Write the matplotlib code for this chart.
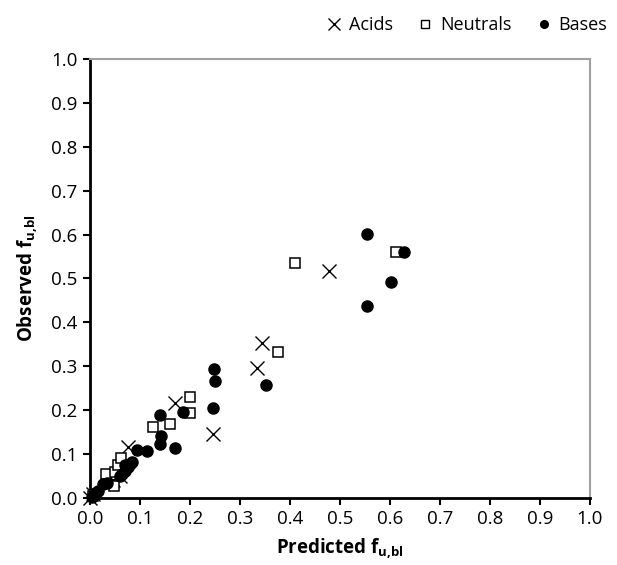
import matplotlib
matplotlib.use("Agg")
import matplotlib.pyplot as plt
import numpy as np

# values (predicted, observed)
acids_pred = [0.000, 0.005, 0.045, 0.060, 0.075, 0.170, 0.246, 0.334, 0.344, 0.478]
acids_obs = [0.000, 0.010, 0.040, 0.050, 0.117, 0.216, 0.145, 0.297, 0.354, 0.517]

neutrals_pred = [0.005, 0.032, 0.048, 0.050, 0.056, 0.062, 0.126, 0.160, 0.200, 0.200,
                 0.376, 0.410, 0.612]
neutrals_obs = [0.005, 0.055, 0.028, 0.060, 0.076, 0.092, 0.162, 0.169, 0.230, 0.194,
                0.332, 0.535, 0.560]

bases_pred = [0.003, 0.010, 0.016, 0.026, 0.034, 0.060, 0.064, 0.070, 0.075, 0.080,
              0.084, 0.070, 0.094, 0.113, 0.140, 0.142, 0.140, 0.170, 0.186, 0.248,
              0.250, 0.246, 0.352, 0.554, 0.628, 0.602, 0.554]
bases_obs = [0.003, 0.012, 0.017, 0.032, 0.035, 0.050, 0.055, 0.062, 0.070, 0.077,
             0.082, 0.075, 0.109, 0.106, 0.190, 0.142, 0.123, 0.113, 0.197, 0.294,
             0.267, 0.206, 0.258, 0.601, 0.560, 0.492, 0.437]

ticks = np.round(np.arange(0, 1.01, 0.1), 1)

plt.rcParams["font.family"] = ["Open Sans", "DejaVu Sans"]
plt.rcParams["mathtext.fontset"] = "custom"
plt.rcParams["mathtext.rm"] = "Open Sans:bold"
plt.rcParams["mathtext.bf"] = "Open Sans:bold"

fig = plt.figure(figsize=(6.17, 5.65), dpi=100)
ax = fig.add_axes([0.1459, 0.1186, 0.8103, 0.777])

ax.plot(acids_pred, acids_obs, "x", color="black", ms=10, mew=1.0, ls="none",
        label="Acids", clip_on=False)
ax.plot(neutrals_pred, neutrals_obs, "s", mfc="white", mec="black", ms=7.5, mew=1.1,
        ls="none", label="Neutrals", clip_on=False)
ax.plot(bases_pred, bases_obs, "o", color="black", ms=8, ls="none",
        label="Bases", clip_on=False)

ax.set_xlim(0, 1)
ax.set_ylim(0, 1)
ax.set_xticks(ticks)
ax.set_yticks(ticks)
ax.set_xticklabels([f"{t:.1f}" for t in ticks])
ax.set_yticklabels([f"{t:.1f}" for t in ticks])
ax.tick_params(direction="out", length=5, width=1.5, labelsize=13.5, pad=4)

for side in ["left", "bottom"]:
    ax.spines[side].set_linewidth(2)
    ax.spines[side].set_color("black")
for side in ["top", "right"]:
    ax.spines[side].set_linewidth(1.5)
    ax.spines[side].set_color("#a0a0a0")

ax.set_xlabel(r"Predicted f$_{\mathrm{u{,}bl}}$", fontsize=13.5, fontweight="bold", labelpad=6)
ax.set_ylabel(r"Observed f$_{\mathrm{u{,}bl}}$", fontsize=13.5, fontweight="bold", labelpad=8)

handles = [
    plt.Line2D([], [], marker="x", color="black", ls="none", ms=9, mew=1.0),
    plt.Line2D([], [], marker="s", mfc="white", mec="black", ls="none", ms=6, mew=1.0),
    plt.Line2D([], [], marker="o", color="black", ls="none", ms=5.5),
]
fig.legend(handles, ["Acids", "Neutrals", "Bases"], loc="upper right",
           bbox_to_anchor=(1.01, 1.0), ncol=3, frameon=False, fontsize=13,
           handlelength=1.0, handletextpad=0.3, columnspacing=1.3)

fig.savefig("out.png", dpi=100)
